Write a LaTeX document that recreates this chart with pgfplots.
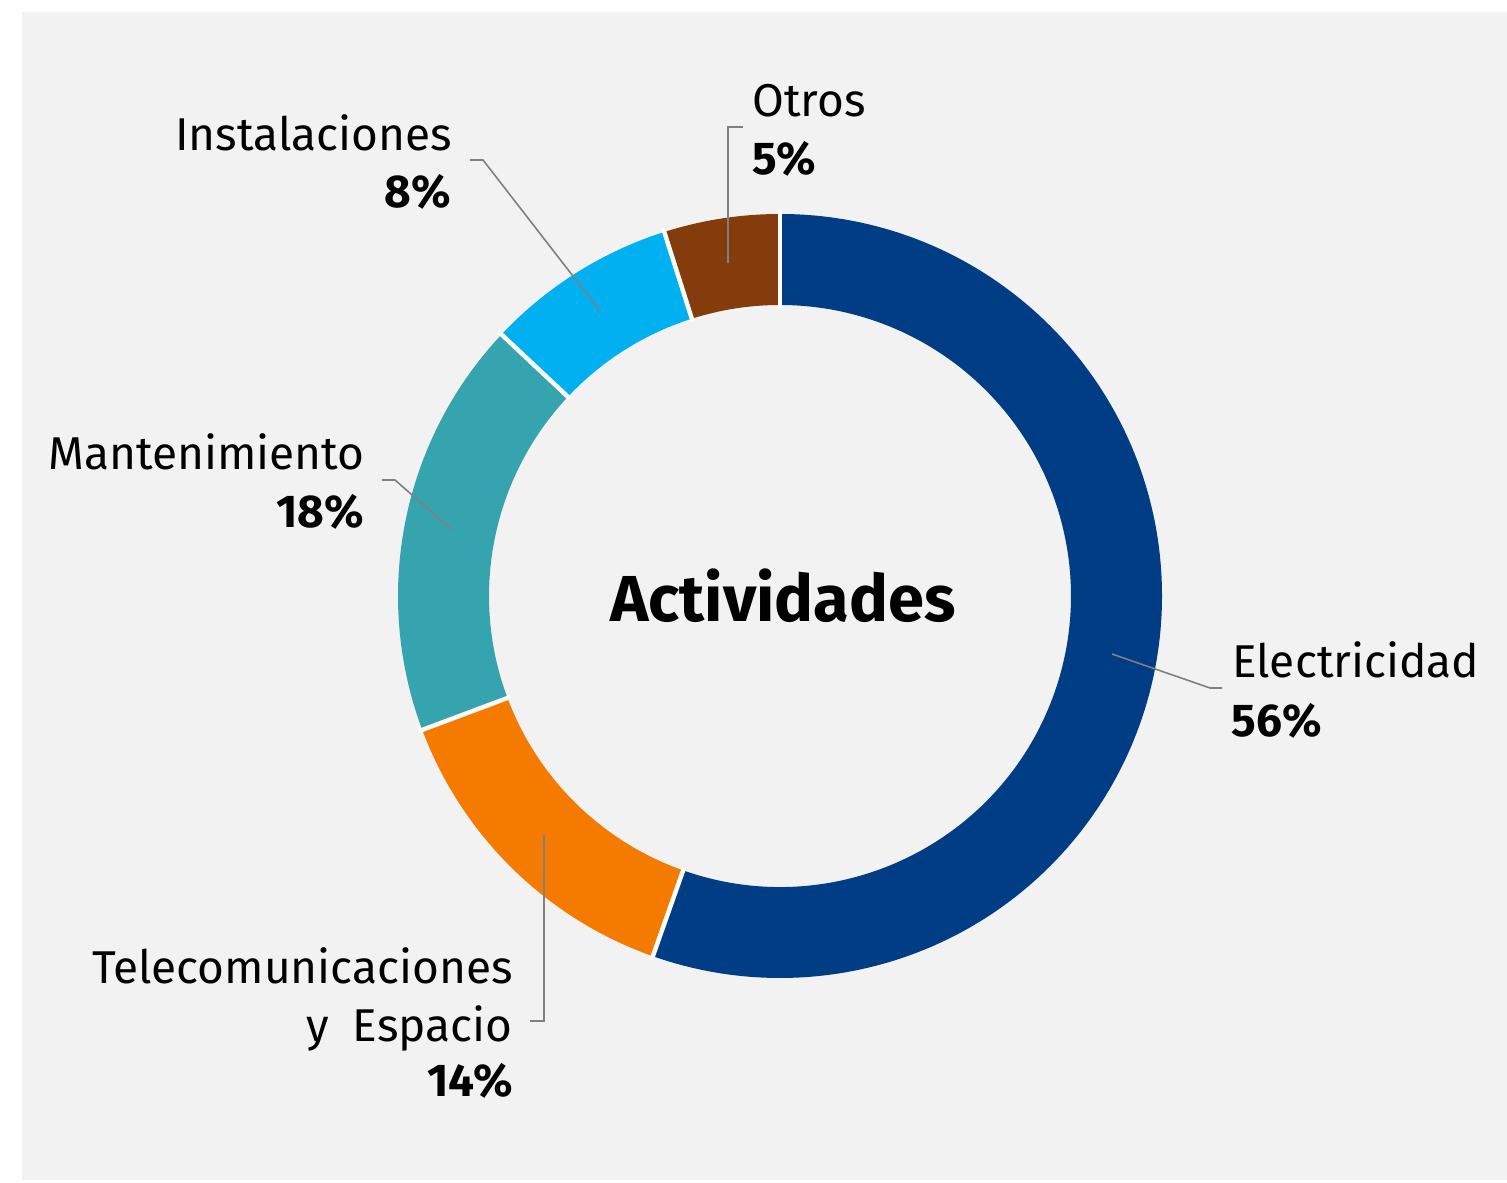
\documentclass[border=0pt]{standalone}
\usepackage{pgfplots}
\usepackage{pgfplotstable}
\pgfplotsset{compat=1.18}
\usepackage{fontspec}
\setmainfont{Fira Sans}
\definecolor{bg}{HTML}{F2F2F2}
\definecolor{celec}{HTML}{003D85}
\definecolor{ctele}{HTML}{F57B00}
\definecolor{cmant}{HTML}{36A4AE}
\definecolor{cinst}{HTML}{00B0F0}
\definecolor{cotro}{HTML}{843C0C}
\definecolor{lead}{HTML}{808080}
\pgfplotstableread{
label value
Electricidad 55.4
Telecom 13.9
Mantenimiento 17.7
Instalaciones 8.1
Otros 4.9
}\slices
\newcommand\lbl{\fontsize{23}{27}\selectfont}
\newcommand\pct{\fontsize{23}{27}\selectfont\bfseries}
\begin{document}
\begin{tikzpicture}
\begin{axis}[hide axis, scale only axis, width=753.5pt, height=591pt,
  xmin=0, xmax=1507, ymin=0, ymax=1182, clip=false]
\pgfplotsextra{
  \path (axis cs:0,0) rectangle (axis cs:1507,1182);
  \fill[bg] (axis cs:22,2) rectangle (axis cs:1507,1170);
  \coordinate (C) at (axis cs:780,586);
  \xdef\startang{90}
  \foreach \i/\col in {0/celec,1/ctele,2/cmant,3/cinst,4/cotro}{
    \pgfplotstablegetelem{\i}{value}\of\slices
    \pgfmathsetmacro\endang{\startang-3.6*\pgfplotsretval}
    \fill[\col] ([shift={(\startang:191pt)}]C) arc[start angle=\startang, end angle=\endang, radius=191pt]
      -- ([shift={(\endang:145.5pt)}]C) arc[start angle=\endang, end angle=\startang, radius=145.5pt] -- cycle;
    \xdef\startang{\endang}
  }
  \xdef\startang{90}
  \foreach \i in {0,...,4}{
    \pgfplotstablegetelem{\i}{value}\of\slices
    \pgfmathsetmacro\endang{\startang-3.6*\pgfplotsretval}
    \draw[white, line width=2.2pt] ([shift={(\startang:144pt)}]C) -- ([shift={(\startang:193pt)}]C);
    \xdef\startang{\endang}
  }
  % leaders
  \draw[lead, line width=0.8pt] (axis cs:728,919) -- (axis cs:728,1055) -- (axis cs:743,1055);
  \draw[lead, line width=0.8pt] (axis cs:600,871) -- (axis cs:483,1022) -- (axis cs:470,1022);
  \draw[lead, line width=0.8pt] (axis cs:452,652) -- (axis cs:395,702) -- (axis cs:382,702);
  \draw[lead, line width=0.8pt] (axis cs:544,347) -- (axis cs:544,161) -- (axis cs:530,161);
  \draw[lead, line width=0.8pt] (axis cs:1112,528) -- (axis cs:1210,494) -- (axis cs:1222,494);
  % labels
  \node[anchor=base west, inner sep=0pt] at (axis cs:752,1065) {\lbl Otros};
  \node[anchor=base west, inner sep=0pt] at (axis cs:752,1007) {\pct 5\%};
  \node[anchor=base east, inner sep=0pt] at (axis cs:452,1031) {\lbl Instalaciones};
  \node[anchor=base east, inner sep=0pt] at (axis cs:451,974) {\pct 8\%};
  \node[anchor=base east, inner sep=0pt] at (axis cs:365,712) {\lbl Mantenimiento};
  \node[anchor=base east, inner sep=0pt] at (axis cs:364,654) {\pct 18\%};
  \node[anchor=base east, inner sep=0pt] at (axis cs:513,199) {\lbl Telecomunicaciones};
  \node[anchor=base east, inner sep=0pt] at (axis cs:513,141) {\lbl y\hspace{12pt}Espacio};
  \node[anchor=base east, inner sep=0pt] at (axis cs:513,86) {\pct 14\%};
  \node[anchor=base west, inner sep=0pt] at (axis cs:1232,504) {\lbl Electricidad};
  \node[anchor=base west, inner sep=0pt] at (axis cs:1231,445) {\pct 56\%};
  \node[anchor=base, inner sep=0pt] at (axis cs:783,560) {\fontsize{32.5}{38}\selectfont\bfseries Actividades};
}
\end{axis}
\end{tikzpicture}
\end{document}
